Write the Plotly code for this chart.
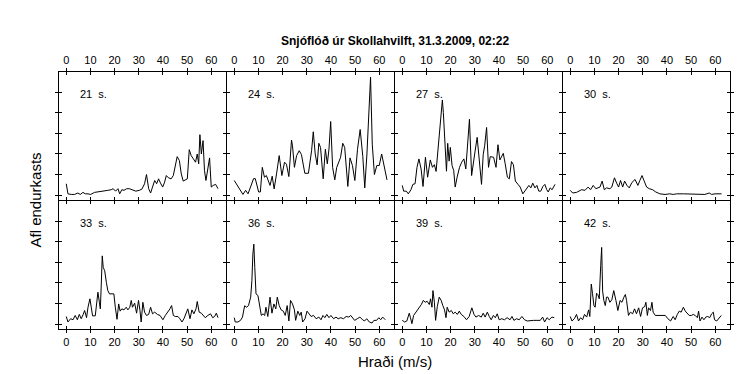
import plotly.graph_objects as go

# ---------------- data ----------------
panel_labels = ["21\u00a0 s.", "24\u00a0 s.", "27\u00a0 s.", "30\u00a0 s.",
                "33\u00a0 s.", "36\u00a0 s.", "39\u00a0 s.", "42\u00a0 s."]

vel_21 = [0,0.7,2.1,3.4,4.8,5.8,6.9,7.9,9,10.1,11.7,13.1,14.5,15.9,17.2,18.6,19.4,20.4,21.4,22.1,23,23.9,25,26.1,27.4,28.8,30.2,31.3,32.4,33.2,34.1,34.9,35.7,36.6,37.4,38.2,39,39.9,40.7,41.4,42.3,43.4,44.3,45,45.9,46.8,47.6,48.4,49.2,50.1,50.9,51.7,52.6,53.5,54.2,54.8,55.3,55.9,56.6,57.2,57.8,58.5,59.3,60,60.8,61.8,62.8]
pow_21 = [0.55,0.06,0.03,0.03,0.1,0.03,0.13,0.06,0.06,0.03,0.13,0.15,0.18,0.18,0.23,0.26,0.31,0.19,0.31,0.06,0.26,0.23,0.31,0.31,0.26,0.19,0.23,0.29,0.55,1.0,0.31,0.1,0.39,0.71,0.55,0.79,0.58,0.39,0.63,0.95,0.84,0.79,0.95,1.35,1.87,1.68,1.03,0.68,0.74,0.79,2.21,1.92,1.76,1.6,2.0,1.52,2.94,2.0,2.65,1.19,0.71,1.19,1.81,0.39,0.47,0.52,0.31]

vel_24 = [0,3.6,4.7,5.7,8,8.7,10.1,10.8,11.6,12.5,13.3,14.1,14.8,15.7,16.5,17.5,18.6,19.7,20.8,21.6,22.6,23.7,24.1,24.9,25.8,26.9,27.8,29.2,30.7,32,32.7,33.5,34.3,35,35.7,36.8,37.7,38.5,39.2,39.9,40.7,41.6,42.4,43.4,44,44.9,45.7,47,47.9,48.9,49.9,51,52.1,53.2,54,54.9,55.4,56,56.4,57.1,58,59,60,61,62,63.2]
pow_24 = [0.71,0.03,0.23,0.06,0.8,0.8,0.15,0.15,1.35,0.87,0.95,0.71,0.47,0.92,0.3,1.03,1.92,0.95,1.6,1.5,0.9,2.68,2.4,1.35,1.92,2.16,1.97,1.06,1.06,2.16,3.08,2.0,1.47,2.52,2.32,0.79,2.23,1.52,2.24,3.58,1.35,0.74,1.35,1.65,1.84,2.52,2.32,0.42,1.81,1.44,0.71,2.23,3.19,1.87,0.35,2.0,3.37,4.82,5.74,2.48,1.0,1.44,1.44,2.0,1.35,0.74]

vel_27 = [0,0.6,1.7,2.5,3.6,4.4,5.3,6.1,6.9,7.8,8.6,9.6,10.5,11.1,11.6,12.5,13.3,14,14.8,15.5,16.1,16.6,17,17.7,18.3,18.8,19.4,19.9,20.6,21.3,21.9,22.7,23.7,24.6,25.5,26.3,27.1,27.8,28.7,29.5,30.2,31,31.8,32.8,33.5,34.1,34.9,35.7,36.4,37.1,37.8,38.8,39.6,40.4,41.1,41.8,42.6,43.5,44.3,45.2,46,46.8,47.9,48.8,49.9,50.7,51.5,52.4,53.2,54,54.9,55.7,56.5,57.3,58.2,59,59.8,60.4,61.2,62,63.2]
pow_27 = [0.47,0.19,0.19,0.06,0.26,0.52,0.55,1.35,1.76,1.27,0.42,1.84,0.87,1.35,1.71,1.35,1.48,1.15,2.16,3.37,4.18,4.63,4.02,2.24,1.16,2.52,1.65,2.32,1.44,1.19,0.39,0.87,1.35,1.6,1.76,1.27,2.65,3.69,0.95,1.52,2.19,2.81,1.87,0.52,1.97,2.4,3.29,1.35,1.87,1.87,1.84,1.35,2.45,1.71,1.87,2.03,1.52,0.87,0.79,1.63,1.48,0.68,0.52,0.39,0.06,0.19,0.35,0.47,0.35,0.58,0.35,0.47,0.19,0.19,0.42,0.52,0.26,0.15,0.35,0.26,0.52]

vel_30 = [0,1,2.6,4.7,6.1,7.4,8.4,9.5,10.6,12.3,13.2,14.1,15,16.4,17.2,18.3,19.2,20,20.8,21.7,22.5,23.4,24.4,25.5,26.8,28,28.8,29.7,30.5,31.6,32.7,34.1,35.4,37.1,39.2,41.2,42.6,44,46.8,49.5,51.6,53.7,55.7,57.5,58.5,59.9,61.2,62.6]
pow_30 = [0.23,0.1,0.13,0.26,0.23,0.39,0.26,0.47,0.31,0.39,0.68,0.26,0.35,0.31,0.39,0.84,0.58,0.39,0.71,0.39,0.68,0.48,0.35,0.61,0.76,0.47,0.71,0.95,0.71,0.39,0.31,0.26,0.15,0.06,0.03,0.06,0.03,0.06,0.06,0.06,0.03,0.03,0.03,0.1,0.03,0.06,0.06,0.06]

vel_33 = [0,0.7,1.8,2.8,3.7,4.6,5.4,6.2,7,7.6,8.4,9,9.8,10.3,10.9,12,12.6,13.1,13.7,14.1,14.5,14.9,15.3,15.9,16.6,17.2,17.9,18.9,19.7,20.3,21,21.7,22.3,23,23.9,24.8,25.5,26.3,26.9,27.4,28.3,29.1,29.9,30.5,31,31.7,32.4,33.2,34.1,34.9,35.7,36.6,37.7,38.8,40,41,42.1,42.9,43.6,44.3,45.1,46.2,47,47.9,48.7,49.7,50.3,51.2,52,52.8,53.7,54.2,55,55.9,56.7,57.5,58.6,59.7,60.6,61.4,62.1,62.8]
pow_33 = [0.37,0.1,0.26,0.21,0.42,0.21,0.47,0.26,0.47,0.66,0.31,0.82,1.23,0.74,0.4,0.4,0.98,1.55,1.06,0.74,1.95,3.32,2.76,2.6,2.03,1.63,1.47,1.47,1.47,0.82,0.23,0.98,0.63,0.74,0.69,0.82,0.69,0.82,1.15,0.82,1.02,0.53,1.15,0.66,0.1,1.06,0.58,0.42,0.47,0.82,0.5,0.58,0.47,0.42,0.21,0.42,0.58,0.74,0.9,0.42,0.37,0.37,0.26,0.1,0.26,0.58,0.74,0.26,0.69,0.5,0.74,1.1,0.58,0.53,0.42,0.31,0.42,0.5,0.31,0.37,0.53,0.31]

vel_36 = [0,0.4,1.5,2.6,3.4,4.3,5.1,5.9,6.8,7.3,7.7,8.1,8.5,9,9.8,10.6,11.2,11.9,12.6,13.1,13.9,14.8,15.6,16.4,17.2,17.8,18.6,19.4,20.3,21.1,21.9,22.6,23.3,24.1,24.9,25.4,26.3,27.1,27.7,28.3,29.3,30.1,30.9,31.8,32.8,33.9,35,35.9,36.7,37.5,38.3,39.2,40,41.1,42.1,43,44.1,45.2,46.3,47.4,48.2,49,49.8,50.9,52,53.1,53.9,54.8,55.9,57,57.8,58.9,59.8,60.6,61.4,62.5]
pow_36 = [0.31,0.1,0.1,0.18,0.34,0.89,0.82,0.9,1.31,2.11,3.4,3.89,2.76,1.47,1.39,0.82,0.42,0.5,0.42,0.82,0.37,1.31,0.53,0.98,0.74,1.31,0.9,0.69,0.63,0.42,0.9,0.15,1.15,0.98,0.69,0.18,0.63,0.42,0.58,0.1,0.26,0.63,0.5,0.37,0.42,0.26,0.34,0.21,0.42,0.31,0.47,0.31,0.42,0.26,0.34,0.26,0.31,0.26,0.37,0.34,0.42,0.31,0.18,0.26,0.34,0.21,0.15,0.26,0.1,0.05,0.18,0.18,0.31,0.21,0.34,0.21]

vel_39 = [0,1,1.9,2.9,3.4,4,4.7,5.4,6.2,7,7.9,8.7,9.5,10.3,11.2,11.7,12.3,12.7,13.3,13.8,14.5,15.3,16.1,16.8,17.5,18.1,18.6,19.4,20.3,21.1,21.9,22.8,23.6,24.4,25.5,26.6,27.7,28.8,29.7,30.5,31.6,32.7,33.5,34.3,35.2,36,36.8,37.7,38.5,39.3,40.1,41.2,42.3,43.4,44.6,45.4,46.2,47.3,48.4,49.5,50.6,51.7,53,54.3,55.7,57.1,58.1,58.9,59.9,60.8,61.9,62.9]
pow_39 = [0.18,0.1,0.15,0.53,0.31,0.02,0.42,0.53,0.63,0.79,0.95,1.15,1.06,1.11,0.95,1.23,0.82,1.63,1.06,0.18,0.85,1.31,1.15,0.9,0.69,0.31,0.82,0.58,0.66,0.5,0.58,0.47,0.63,0.47,0.37,0.21,0.37,0.79,0.47,0.34,0.42,0.34,0.53,0.34,0.58,0.37,0.21,0.42,0.31,0.5,0.21,0.26,0.21,0.31,0.21,0.37,0.18,0.26,0.21,0.37,0.21,0.15,0.18,0.18,0.18,0.18,0.34,0.1,0.31,0.21,0.34,0.31]

vel_42 = [0,0.7,1.7,2.6,3.4,4.3,5.1,5.9,6.8,7.6,8.1,8.7,9.2,9.8,10.3,10.9,11.4,12,12.6,13,13.4,13.9,14.5,15,15.6,16.4,17.2,18,18.9,19.7,20.6,21.4,22.2,22.8,23.3,24.1,24.9,25.8,26.6,27.4,28.3,29.1,29.9,30.8,31.3,31.9,32.4,33.2,33.8,34.3,35.2,36.6,37.9,39.3,40.4,41.5,42.6,43.4,44.3,45.1,45.9,46.8,47.6,48.4,49.2,50.1,50.9,51.7,52.6,53.1,53.7,54.5,55.3,56.1,56.9,57.7,58.5,59.2,59.7,60.6,61.4,62.5]
pow_42 = [0.37,0.15,0.26,0.47,0.15,0.31,0.21,0.47,0.34,0.69,0.37,1.95,1.5,0.9,0.82,1.5,1.44,1.23,2.84,3.73,1.6,1.15,0.9,1.31,1.31,1.06,1.18,1.63,1.15,0.66,1.15,1.06,1.31,1.44,1.15,0.42,0.58,0.5,0.74,0.5,0.79,0.37,0.79,0.85,1.06,0.42,0.79,0.66,1.06,0.58,0.42,0.42,0.42,0.42,0.26,0.15,0.37,0.21,0.47,0.63,0.58,0.82,0.63,0.5,0.42,0.42,0.47,0.42,0.31,0.63,0.15,0.34,0.21,0.34,0.37,0.31,0.5,0.58,0.21,0.15,0.26,0.42]

x_ticks = [0, 10, 20, 30, 40, 50, 60]
y_ticks = [0, 1, 2, 3, 4, 5, 6]

title_text = "Snjóflóð úr Skollahvilft, 31.3.2009, 02:22"
x_title = "Hraði (m/s)"
y_title = "Afl endurkasts"

velocities = [vel_21, vel_24, vel_27, vel_30, vel_33, vel_36, vel_39, vel_42]
powers = [pow_21, pow_24, pow_27, pow_30, pow_33, pow_36, pow_39, pow_42]

# ---------------- figure ----------------
X_RANGE = [-3.0, 66.1]
Y_RANGE = [-0.24, 5.99]
FONT = "Arial, Liberation Sans, sans-serif"

# plot area in pixels: 671 wide (4 panels of 167 px + 1 px seams), 257 high (2 rows of 128 + 1)
PW, PH = 671, 257
col_dom = [[(c * 168) / PW, (c * 168 + 167) / PW] for c in range(4)]
row_dom = [[129 / PH, 1.0], [0.0, 128 / PH]]

fig = go.Figure()
layout = dict(
    width=749, height=374,
    margin=dict(l=51, r=749 - 51 - PW, t=64, b=374 - 64 - PH, pad=0),
    paper_bgcolor="white", plot_bgcolor="white",
    showlegend=False,
    font=dict(family=FONT, size=11, color="black"),
)
annotations = []

for i in range(8):
    n = i + 1
    r, c = divmod(i, 4)
    xd = col_dom[c]
    yd = row_dom[r]
    sx = "" if n == 1 else str(n)
    on = n + 8

    fig.add_trace(go.Scatter(
        x=velocities[i], y=powers[i], mode="lines",
        line=dict(color="black", width=1),
        xaxis="x" + sx, yaxis="y" + sx, hoverinfo="skip"))
    # dummy trace so the overlay axes (inside half of the crossing ticks) are drawn
    fig.add_trace(go.Scatter(x=[None], y=[None], mode="lines",
                             xaxis="x%d" % on, yaxis="y%d" % on, hoverinfo="skip"))

    common = dict(showgrid=False, zeroline=False, ticks="outside", ticklen=3,
                  tickwidth=1, tickcolor="black", mirror="allticks",
                  showline=True, linecolor="black", linewidth=1)
    layout["xaxis" + sx] = dict(
        domain=xd, anchor="y" + sx, range=X_RANGE, tickvals=x_ticks,
        side="top" if r == 0 else "bottom",
        tickfont=dict(family=FONT, size=11, color="black"), **common)
    layout["yaxis" + sx] = dict(
        domain=yd, anchor="x" + sx, range=Y_RANGE, tickvals=y_ticks,
        showticklabels=False, **common)

    over = dict(showgrid=False, zeroline=False, ticks="inside", ticklen=3,
                tickwidth=1, tickcolor="black", mirror="allticks",
                showline=False, showticklabels=False)
    layout["xaxis%d" % on] = dict(domain=xd, anchor="y%d" % on, overlaying="x" + sx,
                                  range=X_RANGE, tickvals=x_ticks,
                                  side="top" if r == 0 else "bottom", **over)
    layout["yaxis%d" % on] = dict(domain=yd, anchor="x%d" % on, overlaying="y" + sx,
                                  range=Y_RANGE, tickvals=y_ticks, **over)

    annotations.append(dict(
        text=panel_labels[i], xref="x%s domain" % sx, yref="y%s domain" % sx,
        x=0.114, y=0.825, xanchor="left", yanchor="middle", showarrow=False,
        font=dict(family=FONT, size=11, color="black")))

annotations.append(dict(text="<b>%s</b>" % title_text, xref="paper", yref="paper",
                        x=0.5, y=(64 + PH - 33) / PH - 1 + 1 - 0 if False else (321 - 33) / PH,
                        xanchor="center", yanchor="middle",
                        showarrow=False, font=dict(family=FONT, size=12, color="black")))
annotations.append(dict(text=x_title, xref="paper", yref="paper",
                        x=0.5, y=(321 - 353) / PH, xanchor="center", yanchor="middle",
                        showarrow=False, font=dict(family=FONT, size=15, color="black")))
annotations.append(dict(text=y_title, xref="paper", yref="paper", textangle=-90,
                        x=(27 - 51) / PW, y=0.5, xanchor="center", yanchor="middle",
                        showarrow=False, font=dict(family=FONT, size=15, color="black")))

layout["annotations"] = annotations
fig.update_layout(**layout)
fig.write_html("out.html")
